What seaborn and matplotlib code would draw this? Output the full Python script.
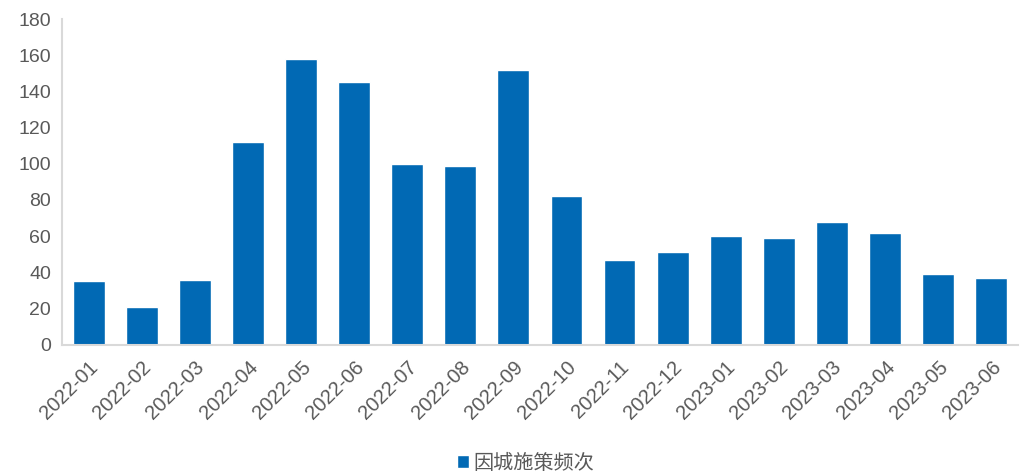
import numpy as np
import pandas as pd
import matplotlib
matplotlib.use("Agg")
import matplotlib.pyplot as plt
import seaborn as sns

# data
months = ["2022-01", "2022-02", "2022-03", "2022-04", "2022-05", "2022-06",
          "2022-07", "2022-08", "2022-09", "2022-10", "2022-11", "2022-12",
          "2023-01", "2023-02", "2023-03", "2023-04", "2023-05", "2023-06"]
counts = [35, 21, 36, 112, 158, 145, 100, 99, 152, 82, 47, 51, 60, 59, 68, 62, 39, 37]
series_name = "因城施策频次"
y_ticks = [0, 20, 40, 60, 80, 100, 120, 140, 160, 180]

df = pd.DataFrame({"month": months, "count": counts})

sns.set_style("white")
plt.rcParams['font.family'] = ['Liberation Sans', 'Noto Sans CJK SC', 'DejaVu Sans']

bar_color = "#0169B4"
text_color = "#595959"
axis_color = "#D9D9D9"

fig = plt.figure(figsize=(10.27, 4.72), dpi=100)
ax = fig.add_axes([0.0604, 0.2697, 0.9306, 0.69])

sns.barplot(data=df, x="month", y="count", color=bar_color, width=0.6,
            saturation=1, label=series_name, ax=ax)

ax.set_xlim(-0.5, len(months) - 0.5)
ax.set_ylim(0, 180)
ax.set_yticks(y_ticks)
ax.set_xlabel("")
ax.set_ylabel("")

# category boundary tick marks like the office chart
ax.set_xticks(np.arange(-0.5, len(months)), minor=True)
ax.tick_params(axis="x", which="major", length=0, pad=9, labelsize=14.5, labelcolor=text_color)
ax.tick_params(axis="x", which="minor", direction="in", length=5, width=1.5, color=axis_color)
ax.tick_params(axis="y", direction="in", length=5, width=1.5, color=axis_color,
               labelsize=14, labelcolor=text_color, pad=8)
plt.setp(ax.get_xticklabels(), rotation=45, ha="right", rotation_mode="anchor")

for side in ["top", "right"]:
    ax.spines[side].set_visible(False)
for side in ["left", "bottom"]:
    ax.spines[side].set_color(axis_color)
    ax.spines[side].set_linewidth(1.5)

if ax.legend_:
    ax.legend_.remove()
handles, labels = ax.get_legend_handles_labels()
fig.legend(handles, labels, loc="lower center", bbox_to_anchor=(0.512, -0.04),
           frameon=False, fontsize=14.5, labelcolor=text_color,
           handlelength=0.6, handleheight=0.6, handletextpad=0.2)

fig.savefig("out.png", dpi=100)
